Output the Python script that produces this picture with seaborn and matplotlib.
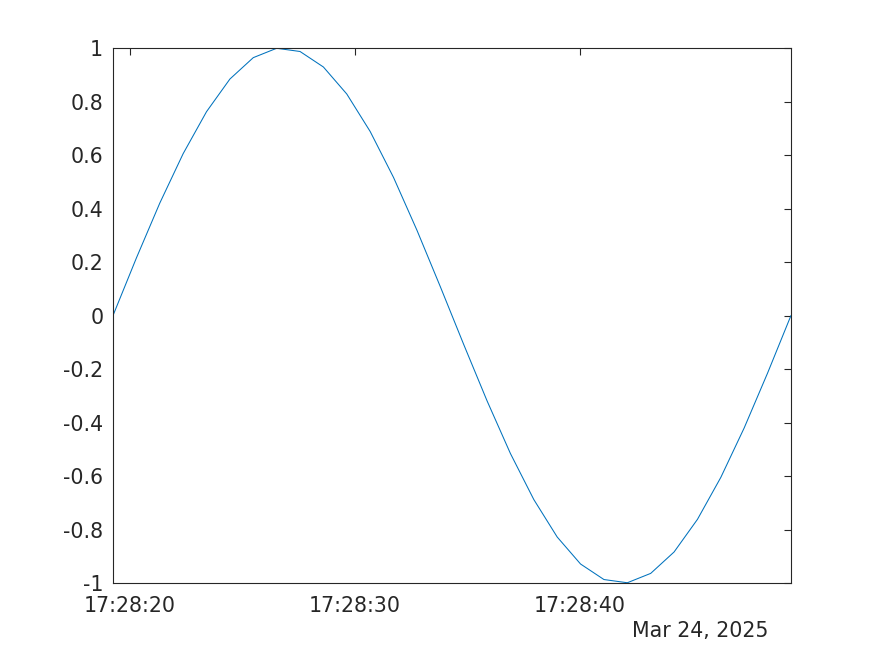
import pandas as pd
import matplotlib
matplotlib.use("Agg")
import matplotlib.pyplot as plt
import matplotlib.dates as mdates
import seaborn as sns

# 30 samples, evenly spaced in time; sine values
start_time = "2025-03-24 17:28:19.244"
end_time = "2025-03-24 17:28:49.378"
values = [0.0, 0.215, 0.420, 0.605, 0.762, 0.884, 0.964, 0.999, 0.987, 0.929,
          0.828, 0.688, 0.516, 0.319, 0.108, -0.108, -0.319, -0.516, -0.688,
          -0.828, -0.929, -0.987, -0.999, -0.964, -0.884, -0.762, -0.605,
          -0.420, -0.215, 0.0]
y_ticks = [-1, -0.8, -0.6, -0.4, -0.2, 0, 0.2, 0.4, 0.6, 0.8, 1]
y_ticklabels = ["-1", "-0.8", "-0.6", "-0.4", "-0.2", "0",
                "0.2", "0.4", "0.6", "0.8", "1"]
date_label = "Mar 24, 2025"

df = pd.DataFrame({
    "t": pd.date_range(start_time, end_time, periods=len(values)),
    "y": values,
})

sns.set_style("white")
plt.rcParams["font.family"] = ["DejaVu Sans"]
ink = "#262626"

fig = plt.figure(figsize=(8.74, 6.55), dpi=100)
ax = fig.add_axes([0.1293, 0.1099, 0.7757, 0.8168])

sns.lineplot(data=df, x="t", y="y", ax=ax, color="#0072BD", linewidth=0.75)

ax.set_xlim(df["t"].iloc[0], df["t"].iloc[-1])
ax.set_ylim(-1, 1)
ax.set_yticks(y_ticks)
ax.set_yticklabels(y_ticklabels)
ax.xaxis.set_major_locator(mdates.SecondLocator(bysecond=[0, 10, 20, 30, 40, 50]))
ax.xaxis.set_major_formatter(mdates.DateFormatter("%H:%M:%S"))
ax.set_xlabel("")
ax.set_ylabel("")

ax.tick_params(axis="both", direction="in", length=5, width=0.8, color=ink,
               labelcolor=ink, labelsize=14.8, top=True, right=True)
ax.tick_params(axis="x", pad=9)
ax.tick_params(axis="y", pad=7)
for s in ax.spines.values():
    s.set_color(ink)
    s.set_linewidth(0.8)

ax.text(0.966, -0.0897, date_label, transform=ax.transAxes, ha="right",
        va="center", fontsize=14.8, color=ink)

fig.savefig("out.png", dpi=100)
plt.close(fig)
